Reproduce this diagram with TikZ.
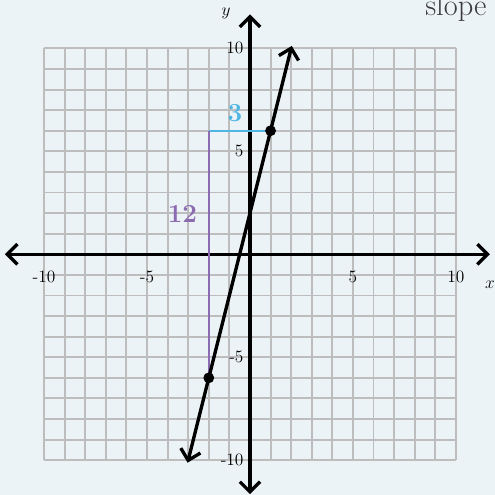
\documentclass[tikz,border=0pt]{standalone}
\usepackage{tikz}
\usetikzlibrary{arrows.meta}
\definecolor{grbg}{RGB}{236,243,246}
\definecolor{grgray}{RGB}{189,189,189}
\definecolor{grblue}{RGB}{79,182,227}
\definecolor{grpurple}{RGB}{139,107,177}
\definecolor{grtext}{RGB}{60,60,60}
\tikzset{
  grgrid/.style={draw=grgray, line width=1.3pt, step=0.5cm},
  graxis/.style={{Straight Barb[length=7pt,width=14pt]}-{Straight Barb[length=7pt,width=14pt]}, line width=2.3pt, draw=black},
  grdot/.style={circle, fill=black, inner sep=0pt, minimum size=7.5pt},
  grtick/.style={font=\fontsize{12}{14}\selectfont, inner sep=0pt},
  grrun/.style={draw=grblue, line width=1.4pt},
  grrise/.style={draw=grpurple, line width=1.4pt},
  grlabel/.style={font=\fontsize{18}{20}\selectfont\bfseries, inner sep=0pt}
}
\begin{document}
\begin{tikzpicture}[x=0.5cm, y=0.5cm]
  \path[use as bounding box, fill=grbg] (-12.14,-11.67) rectangle (11.9,12.35);
  \draw[grgrid] (-10,-10) grid (10,10);
  \coordinate (xl) at (-11.9,0);
  \coordinate (xr) at (11.65,0);
  \coordinate (yb) at (0,-11.65);
  \coordinate (yt) at (0,11.65);
  \coordinate (P) at (1,6);
  \coordinate (Q) at (-2,-6);
  \coordinate (C) at (-2,6);
  \coordinate (lo) at (-3.03,-10.12);
  \coordinate (hi) at (2.03,10.12);
  \draw[graxis] (xl) -- (xr);
  \draw[graxis] (yb) -- (yt);
  \foreach \x in {-10,-5,5,10}
    \node[grtick] (xt\x) at (\x,-1.1) {\x};
  \foreach \y in {-10,-5,5,10}
    \node[grtick, anchor=east] (yt\y) at (-0.3,\y) {\y};
  \node[font=\fontsize{12}{14}\selectfont] (xlab) at (11.65,-1.5) {$x$};
  \node[font=\fontsize{12}{14}\selectfont] (ylab) at (-1.16,11.72) {$y$};
  \draw[grrun] (C) -- (P);
  \draw[grrise] (C) -- (Q);
  \draw[graxis] (lo) -- (hi);
  \node[grdot] (p1) at (P) {};
  \node[grdot] (p2) at (Q) {};
  \node[grlabel, text=grblue] (run) at (-0.73,6.84) {3};
  \node[grlabel, text=grpurple] (rise) at (-3.28,1.97) {12};
  \node[anchor=base west, inner sep=0pt, font=\fontsize{21}{24}\selectfont, text=grtext] (slope) at (8.5,11.6) {slope};
\end{tikzpicture}
\end{document}
